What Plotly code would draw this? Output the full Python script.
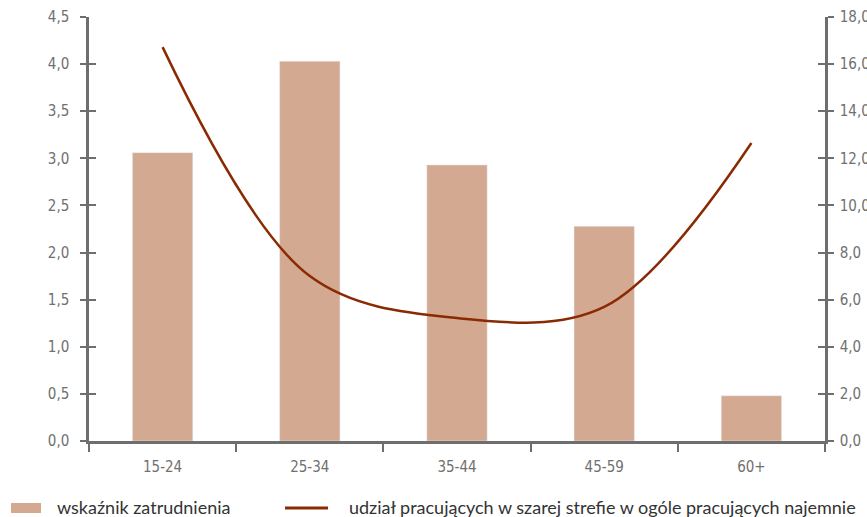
import plotly.graph_objects as go

categories = ["15-24", "25-34", "35-44", "45-59", "60+"]
employment_rate = [3.06, 4.03, 2.93, 2.28, 0.48]
grey_share = [16.72, 7.0, 5.22, 5.69, 12.65]
left_ticks = [0, 0.5, 1, 1.5, 2, 2.5, 3, 3.5, 4, 4.5]
right_ticks = [0, 2, 4, 6, 8, 10, 12, 14, 16, 18]
legend_bar = "wskaźnik zatrudnienia"
legend_line = "udział pracujących w szarej strefie w ogóle pracujących najemnie"

BAR = "#D4A991"
LINE = "#8A2A02"
AX = "#6E6E6E"
TICKFONT = dict(family="Liberation Sans Narrow, DejaVu Sans Condensed, Open Sans, sans-serif", size=15, color="#707070")

W, H = 867, 517
L, R, T, B = 89, 42, 17, 76
pw, ph = W - L - R, H - T - B

def px(x):
    return (x - L) / pw

def py(y):
    return (H - B - y) / ph

fig = go.Figure()
fig.add_trace(go.Bar(x=categories, y=employment_rate, marker_color=BAR, width=0.41,
                     name=legend_bar, showlegend=False))
fig.add_trace(go.Scatter(x=categories, y=grey_share, yaxis="y2", mode="lines",
                         line=dict(color=LINE, width=2.5, shape="spline", smoothing=1.0),
                         name=legend_line, showlegend=False))

def fmt(v):
    return f"{v:.1f}".replace(".", ",")

fig.update_layout(
    width=W, height=H, margin=dict(l=L, r=R, t=T, b=B, autoexpand=False),
    plot_bgcolor="white", paper_bgcolor="white",
    xaxis=dict(type="category", tickson="boundaries", ticks="outside", ticklen=8, tickwidth=2,
               tickcolor=AX, showline=True, linecolor=AX, linewidth=2.5, showgrid=False,
               tickfont=TICKFONT, ticklabelstandoff=10, range=[-0.5, 4.5], zeroline=False),
    yaxis=dict(range=[0, 4.5], tickvals=left_ticks, ticktext=[fmt(v) for v in left_ticks],
               ticks="outside", ticklen=6, tickwidth=2, tickcolor=AX, showline=True, linecolor=AX,
               linewidth=2.5, showgrid=False, zeroline=False, tickfont=TICKFONT,
               ticklabelstandoff=8),
    yaxis2=dict(range=[0, 18], tickvals=right_ticks, ticktext=[fmt(v) for v in right_ticks],
                overlaying="y", side="right", anchor="x",
                ticks="outside", ticklen=6, tickwidth=2, tickcolor=AX, showline=True, linecolor=AX,
                linewidth=2.5, showgrid=False, zeroline=False, tickfont=TICKFONT,
                ticklabelstandoff=3),
    yaxis3=dict(range=[0, 4.5], tickvals=left_ticks, overlaying="y", side="left", anchor="x",
                ticks="inside", ticklen=7, tickwidth=2, tickcolor=AX, showticklabels=False,
                showline=False, showgrid=False, zeroline=False),
    yaxis4=dict(range=[0, 18], tickvals=right_ticks, overlaying="y", side="right", anchor="x",
                ticks="inside", ticklen=7, tickwidth=2, tickcolor=AX, showticklabels=False,
                showline=False, showgrid=False, zeroline=False),
    showlegend=False,
)
fig.add_trace(go.Scatter(x=[categories[0]], y=[None], yaxis="y3", showlegend=False, hoverinfo="skip"))
fig.add_trace(go.Scatter(x=[categories[0]], y=[None], yaxis="y4", showlegend=False, hoverinfo="skip"))

LEGFONT = dict(family="Lato, Open Sans, sans-serif", size=18, color="#333333")
fig.add_shape(type="rect", xref="paper", yref="paper", x0=px(11), x1=px(41), y0=py(513), y1=py(503),
              fillcolor=BAR, line=dict(width=0))
fig.add_shape(type="line", xref="paper", yref="paper", x0=px(285), x1=px(328), y0=py(508), y1=py(508),
              line=dict(color=LINE, width=3))
fig.add_annotation(xref="paper", yref="paper", x=px(55), y=py(507), text=legend_bar, showarrow=False,
                   xanchor="left", yanchor="middle", font=LEGFONT)
fig.add_annotation(xref="paper", yref="paper", x=px(347), y=py(507), text=legend_line, showarrow=False,
                   xanchor="left", yanchor="middle", font=LEGFONT)

fig.write_html("out.html", config={"displayModeBar": False},
               post_script="document.body.style.margin='0';document.body.style.overflow='hidden';")
